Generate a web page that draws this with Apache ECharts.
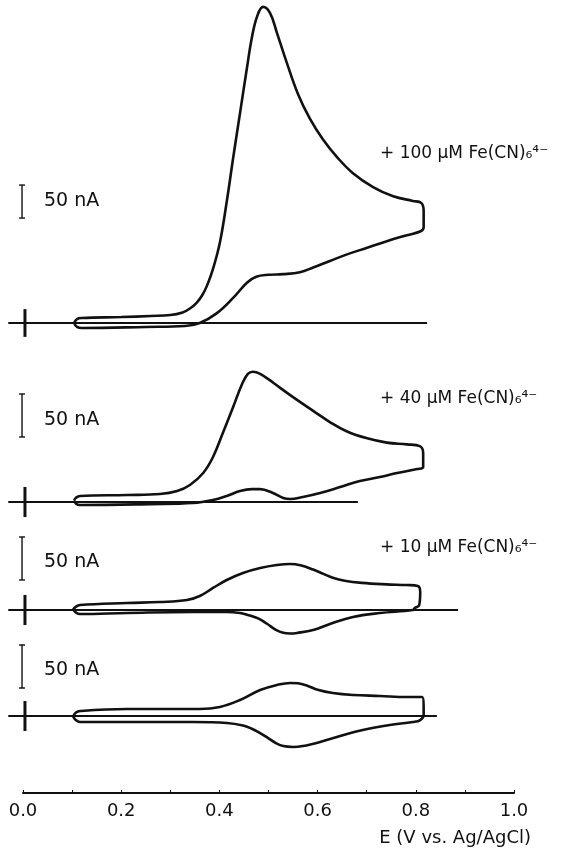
<!DOCTYPE html>
<html>
<head>
<meta charset="utf-8">
<script src="https://cdn.jsdelivr.net/npm/echarts@6/dist/echarts.min.js"></script>
<style>
  html, body { margin: 0; padding: 0; background: #fff; }
  #chart { width: 566px; height: 856px; }
</style>
</head>
<body>
<div id="chart"></div>
<script>
// potential (V vs Ag/AgCl) and current (nA)
const cv100E = [0.104, 0.110, 0.12, 0.2, 0.26, 0.30, 0.325, 0.340, 0.354, 0.365, 0.375, 0.387, 0.401, 0.415, 0.428, 0.442, 0.456, 0.466, 0.477, 0.489, 0.503, 0.517, 0.537, 0.560, 0.584, 0.611, 0.640, 0.672, 0.713, 0.754, 0.794, 0.811, 0.816, 0.816, 0.810, 0.782, 0.741, 0.701, 0.660, 0.625, 0.591, 0.564, 0.530, 0.500, 0.475, 0.456, 0.428, 0.395, 0.360, 0.33, 0.25, 0.12, 0.110, 0.104];
const cv100I = [0, 6, 7.6, 9, 10.6, 12, 16, 22, 31, 42, 57, 82, 122, 184, 250, 318, 386, 432, 465, 479, 470, 440, 395, 347, 310, 278, 251, 227, 206, 192, 185, 182, 170, 145, 139, 133, 124, 114, 104, 94, 84, 77, 74, 73, 70, 61, 38, 15, 0, -4.5, -6, -7.6, -6, 0];

const cv40E = [0.104, 0.108, 0.116, 0.212, 0.279, 0.314, 0.340, 0.367, 0.387, 0.407, 0.428, 0.446, 0.458, 0.468, 0.483, 0.509, 0.523, 0.550, 0.591, 0.625, 0.660, 0.701, 0.741, 0.782, 0.808, 0.815, 0.815, 0.803, 0.762, 0.727, 0.686, 0.646, 0.605, 0.570, 0.544, 0.530, 0.509, 0.483, 0.466, 0.442, 0.415, 0.387, 0.346, 0.259, 0.116, 0.108, 0.104];
const cv40I = [2, 5, 7, 8.1, 9.3, 12.8, 19.8, 33.7, 52.3, 80.2, 110.5, 137, 149, 151.5, 149, 139, 133, 122, 106, 93, 82, 74, 69, 67, 65, 57, 40.7, 38.4, 33.7, 29, 24.4, 17.4, 10.5, 5.8, 3.5, 4.7, 10.5, 15, 15, 12.8, 7, 2.3, -1.2, -2.5, -3.5, -2, 2];

const cv10E = [0.102, 0.108, 0.116, 0.212, 0.279, 0.334, 0.360, 0.387, 0.415, 0.448, 0.483, 0.517, 0.544, 0.565, 0.591, 0.612, 0.631, 0.655, 0.690, 0.740, 0.782, 0.804, 0.809, 0.807, 0.798, 0.794, 0.727, 0.672, 0.625, 0.591, 0.558, 0.544, 0.530, 0.515, 0.497, 0.480, 0.460, 0.442, 0.415, 0.346, 0.212, 0.116, 0.108, 0.102];
const cv10I = [0.5, 4, 5.8, 8.1, 9.3, 11.6, 16.3, 25.6, 34.9, 43, 48.8, 52.3, 53.5, 52, 47, 42, 37.5, 34, 31.5, 29.8, 29, 27.9, 20.9, 5.8, 2.3, 0, -3.5, -8.1, -16.3, -23.3, -26.7, -27.3, -26.5, -23, -16, -10, -6, -3.5, -2.3, -2.3, -3.5, -4.7, -3, 0.5];

const cv0E = [0.102, 0.108, 0.116, 0.212, 0.279, 0.360, 0.401, 0.442, 0.483, 0.517, 0.544, 0.560, 0.580, 0.600, 0.631, 0.672, 0.727, 0.782, 0.813, 0.816, 0.816, 0.809, 0.794, 0.747, 0.692, 0.646, 0.605, 0.570, 0.550, 0.530, 0.515, 0.500, 0.483, 0.465, 0.448, 0.415, 0.346, 0.212, 0.116, 0.108, 0.102];
const cv0I = [-0.5, 4, 5.8, 8.1, 8.1, 8.1, 10.5, 18.6, 30.2, 36, 38.4, 38, 35, 30.5, 26.7, 24.4, 23.3, 22.1, 22.1, 10.5, 1.2, -4.7, -7, -10.5, -16.3, -23.3, -30.2, -34.9, -36, -35, -31.5, -26, -19.8, -14.5, -11, -8.1, -7, -7, -7, -5, -0.5];

const xTicks = [0, 0.2, 0.4, 0.6, 0.8, 1.0];
const barNA = 50;
const panelLabels = ['+ 100 μM Fe(CN)₆⁴⁻', '+ 40 μM Fe(CN)₆⁴⁻', '+ 10 μM Fe(CN)₆⁴⁻', ''];

const W = 566;
const PX_PER_V = 491;
const X0 = 23;
const X_MIN = -0.04;
const INK = '#111';
const FONT = '"DejaVu Sans", sans-serif';

// layout of each trace: baseline pixel, px per nA, y range, etc.
const panels = [
  { E: cv100E, I: cv100I, base: 323, k: 0.66, yMin: -40, yMax: 480, lineEnd: 0.823, cross: 21, barLo: 159, labelY: 154, barLabelY: 201 },
  { E: cv40E, I: cv40I, base: 502, k: 0.86, yMin: -40, yMax: 160, lineEnd: 0.682, cross: 17.5, barLo: 75.6, labelY: 399, barLabelY: 420 },
  { E: cv10E, I: cv10I, base: 610, k: 0.86, yMin: -40, yMax: 90, lineEnd: 0.886, cross: 17.5, barLo: 34.9, labelY: 548, barLabelY: 562 },
  { E: cv0E, I: cv0I, base: 716, k: 0.86, yMin: -45, yMax: 90, lineEnd: 0.843, cross: 17.5, barLo: 32.6, labelY: 0, barLabelY: 670 }
];

const grid = [], xAxis = [], yAxis = [], series = [], graphic = [];

function seg(i, pts, width) {
  series.push({
    type: 'line', xAxisIndex: i, yAxisIndex: i, data: pts,
    symbol: 'none', silent: true, clip: false,
    lineStyle: { color: INK, width: width }
  });
}

panels.forEach((p, i) => {
  grid.push({
    left: X0 + X_MIN * PX_PER_V,
    right: W - (X0 + PX_PER_V),
    top: p.base - p.yMax * p.k,
    height: (p.yMax - p.yMin) * p.k
  });
  xAxis.push({ type: 'value', gridIndex: i, min: X_MIN, max: 1.0, show: false });
  yAxis.push({ type: 'value', gridIndex: i, min: p.yMin, max: p.yMax, show: false });

  seg(i, [[-0.03, 0], [p.lineEnd, 0]], 2);
  seg(i, [[0.004, -p.cross], [0.004, p.cross]], 3);
  seg(i, [[-0.002, p.barLo], [-0.002, p.barLo + barNA]], 1.4);
  seg(i, [[-0.008, p.barLo], [0.004, p.barLo]], 1.4);
  seg(i, [[-0.008, p.barLo + barNA], [0.004, p.barLo + barNA]], 1.4);

  series.push({
    type: 'line', xAxisIndex: i, yAxisIndex: i,
    data: p.E.map((e, j) => [e, p.I[j]]),
    symbol: 'none', silent: true, clip: false, smooth: 0.4,
    lineStyle: { color: INK, width: 2.6 }
  });

  graphic.push({
    type: 'text', x: 44, y: p.barLabelY,
    style: { text: '50 nA', font: '19px ' + FONT, fill: INK, textVerticalAlign: 'middle' }
  });
  if (panelLabels[i]) {
    graphic.push({
      type: 'text', x: 380, y: p.labelY,
      style: { text: panelLabels[i], font: '17px ' + FONT, fill: INK, textVerticalAlign: 'middle' }
    });
  }
});

// shared potential axis at the bottom
grid.push({ left: X0, right: W - (X0 + PX_PER_V), top: 770, height: 23 });
xAxis.push({
  type: 'value', gridIndex: 4, min: 0, max: 1.0, interval: 0.2,
  axisLine: { lineStyle: { color: INK, width: 2 } },
  axisTick: { inside: true, length: 3, lineStyle: { color: INK, width: 1 } },
  minorTick: { show: true, splitNumber: 2, length: 3, lineStyle: { color: INK, width: 1 } },
  splitLine: { show: false },
  axisLabel: {
    color: INK, fontSize: 18, fontFamily: FONT, margin: 9,
    formatter: v => xTicks.indexOf(Math.round(v * 10) / 10) >= 0 ? v.toFixed(1) : ''
  }
});
yAxis.push({ type: 'value', gridIndex: 4, show: false });

graphic.push({
  type: 'text', x: 531, y: 838,
  style: { text: 'E (V vs. Ag/AgCl)', font: '18px ' + FONT, fill: INK, textAlign: 'right', textVerticalAlign: 'middle' }
});

const chart = echarts.init(document.getElementById('chart'));
chart.setOption({
  animation: false,
  backgroundColor: '#fff',
  grid: grid,
  xAxis: xAxis,
  yAxis: yAxis,
  series: series,
  graphic: graphic
});
</script>
</body>
</html>
